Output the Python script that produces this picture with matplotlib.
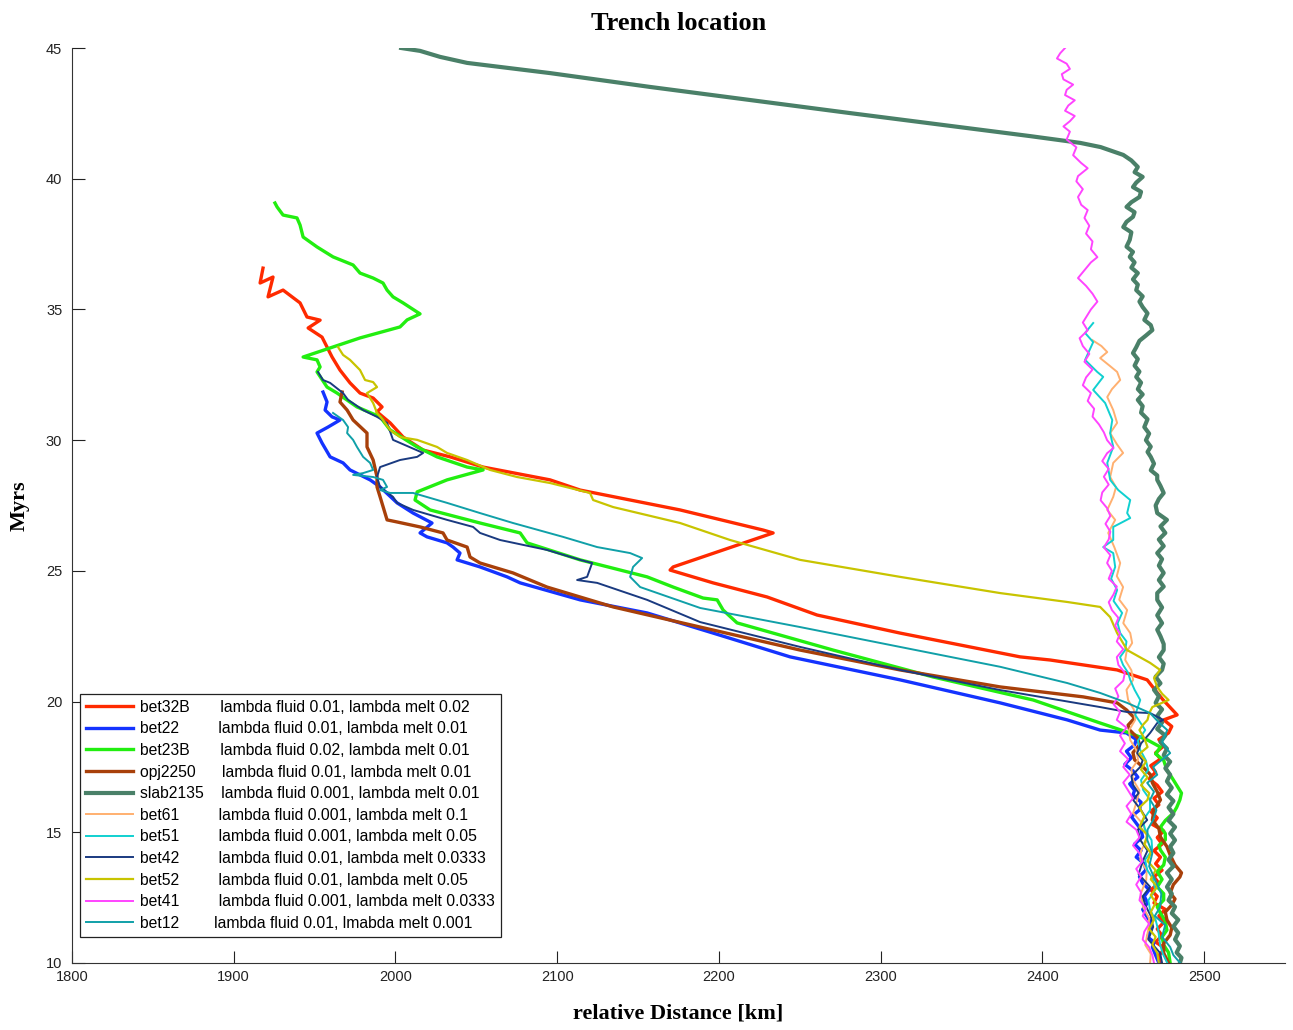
import matplotlib
matplotlib.use("Agg")
import matplotlib.pyplot as plt

# ---- data: trench position (km) vs time (Myrs) ----
bet32B_t = [36.58, 36.01, 36.24, 35.48, 35.74, 35.25, 34.71, 34.59, 34.29, 33.94, 33.56, 33.18,
            32.68, 32.19, 31.80, 31.61, 31.27, 31.08, 30.66, 30.12, 29.62, 29.36, 28.97, 28.48,
            28.09, 27.33, 26.56, 26.45, 25.15, 25.03, 24.54, 24.00, 23.31, 22.62, 21.71, 21.59,
            21.21, 20.83, 20.44, 20.06, 19.49, 19.30, 19.05, 18.80, 18.55, 18.30, 18.04, 17.80,
            17.55, 17.30, 17.05, 16.80, 16.55, 16.30, 16.05, 15.80, 15.55, 15.30, 15.05, 14.80,
            14.55, 14.30, 14.05, 13.80, 13.55, 13.30, 13.05, 12.80, 12.55, 12.30, 12.05, 11.80,
            11.55, 11.30, 11.05, 10.80, 10.55, 10.30, 10.00]
bet32B_km = [1918.1, 1916.3, 1924.3, 1921.2, 1930.5, 1941.0, 1945.3, 1953.4, 1946.0, 1954.6, 1957.7,
             1960.8, 1965.7, 1971.9, 1978.1, 1986.2, 1991.7, 1988.6, 1996.7, 2004.7, 2017.1, 2033.8,
             2054.2, 2095.6, 2114.2, 2176.0, 2227.4, 2233.5, 2171.7, 2169.8, 2196.4, 2229.8, 2260.7,
             2312.0, 2386.2, 2404.8, 2446.2, 2464.8, 2469.7, 2474.7, 2483.3, 2475, 2480, 2478, 2472,
             2475, 2470, 2473, 2467, 2470, 2466, 2471, 2474, 2469, 2472, 2467, 2471, 2468, 2475, 2471,
             2474, 2469, 2473, 2470, 2474, 2469, 2472, 2467, 2471, 2469, 2476, 2472, 2475, 2471, 2474,
             2470, 2476, 2472, 2473]

bet22_t = [31.84, 31.46, 31.15, 30.89, 30.77, 30.50, 30.27, 29.89, 29.36, 29.13, 28.86, 28.48, 28.21,
           27.60, 27.21, 26.83, 26.45, 26.30, 26.07, 25.91, 25.68, 25.42, 25.15, 24.77, 24.54, 23.89,
           23.39, 22.62, 21.71, 20.83, 19.95, 19.30, 18.91, 18.80, 18.55, 18.34, 18.10, 17.85, 17.60,
           17.35, 17.11, 16.85, 16.60, 16.43, 16.15, 15.85, 15.60, 15.35, 15.10, 14.82, 14.55, 14.30,
           14.05, 13.80, 13.56, 13.30, 13.06, 12.80, 12.55, 12.30, 12.05, 11.84, 11.55, 11.26, 11.00,
           10.80, 10.61, 10.30, 10.00]
bet22_km = [1955.2, 1957.7, 1956.5, 1960.8, 1965.7, 1958.3, 1951.5, 1954.6, 1959.6, 1967.6, 1971.9,
            1984.3, 1990.5, 2001.0, 2010.9, 2022.6, 2015.2, 2019.5, 2031.9, 2035.6, 2039.9, 2038.1,
            2052.3, 2069.0, 2077.1, 2114.2, 2155.6, 2196.4, 2244.0, 2312.0, 2373.9, 2415.3, 2435.7,
            2452, 2458, 2457, 2452, 2455, 2451, 2456, 2459, 2454, 2457, 2456, 2461, 2460, 2455, 2458,
            2461, 2462, 2457, 2461, 2458, 2463, 2464, 2460, 2462, 2466, 2463, 2465, 2462, 2464, 2467,
            2467, 2465, 2469, 2468, 2470, 2472]

bet23B_t = [39.07, 38.92, 38.61, 38.50, 38.23, 37.77, 37.39, 37.01, 36.70, 36.39, 36.20, 36.01, 35.74,
            35.48, 35.25, 34.90, 34.83, 34.60, 34.33, 33.91, 33.18, 33.07, 32.80, 32.61, 32.03, 31.80,
            31.27, 30.89, 30.39, 29.74, 29.36, 28.97, 28.86, 28.48, 28.02, 27.71, 27.33, 26.83, 26.45,
            26.07, 25.42, 24.77, 24.38, 23.96, 23.89, 23.50, 23.01, 21.97, 20.94, 20.06, 19.18, 18.80,
            18.53, 18.26, 18.00, 17.75, 17.38, 17.10, 16.80, 16.50, 16.24, 15.95, 15.74, 15.45, 15.20,
            14.95, 14.71, 14.50, 14.32, 14.05, 13.75, 13.50, 13.20, 12.91, 12.65, 12.41, 12.15, 11.91,
            11.60, 11.26, 11.00, 10.69, 10.40, 10.00]
bet23B_km = [1925.5, 1926.8, 1930.5, 1939.1, 1941.0, 1942.9, 1951.5, 1961.4, 1973.8, 1978.1, 1986.2,
             1992.3, 1994.8, 1998.5, 2004.7, 2013.4, 2015.2, 2007.2, 2002.8, 1978.1, 1942.9, 1951.5,
             1953.4, 1951.5, 1957.7, 1963.9, 1976.2, 1990.5, 1996.7, 2013.4, 2025.7, 2044.3, 2054.2,
             2031.9, 2013.4, 2012.1, 2021.4, 2052.3, 2077.1, 2081.4, 2114.2, 2155.6, 2171.7, 2190.2,
             2198.9, 2202.6, 2211.2, 2270.6, 2332.5, 2394.3, 2435.7, 2454, 2465, 2473, 2470, 2475,
             2477, 2480, 2483, 2486, 2485, 2483, 2481, 2476, 2473, 2476, 2476, 2472, 2473, 2476, 2475,
             2471, 2474, 2471, 2475, 2475, 2471, 2473, 2476, 2477, 2474, 2475, 2478, 2479]

opj2250_t = [31.84, 31.46, 31.15, 30.77, 30.27, 29.74, 29.24, 28.59, 28.21, 27.83, 26.95, 26.87, 26.68,
             26.45, 26.18, 25.91, 25.53, 25.30, 24.92, 24.38, 23.62, 22.85, 21.97, 21.21, 20.56, 20.18,
             19.95, 19.68, 19.37, 19.10, 18.91, 18.60, 18.34, 18.05, 17.77, 17.45, 17.19, 16.89, 16.55,
             16.24, 15.85, 15.47, 15.15, 14.82, 14.45, 14.13, 13.75, 13.45, 13.29, 13.00, 12.68, 12.45,
             12.22, 11.95, 11.65, 11.35, 11.07, 10.75, 10.38, 10.00]
opj2250_km = [1967.0, 1965.7, 1970.1, 1973.8, 1982.4, 1982.4, 1986.2, 1988.6, 1988.6, 1990.5, 1994.8,
              2001.0, 2015.2, 2029.4, 2031.9, 2044.3, 2046.1, 2052.3, 2072.7, 2093.7, 2134.6, 2188.4,
              2250.2, 2312.0, 2373.9, 2425.2, 2446.2, 2452, 2457, 2453, 2454, 2459, 2460, 2456, 2457,
              2463, 2467, 2468, 2471, 2473, 2469, 2468, 2472, 2473, 2477, 2479, 2482, 2486, 2485, 2481,
              2479, 2482, 2480, 2476, 2477, 2480, 2479, 2475, 2475, 2478]

slab2135_t = [45.00, 44.89, 44.66, 44.43, 44.04, 43.51, 43.01, 42.51, 42.02, 41.63, 41.37, 41.21, 40.91,
              40.70, 40.45, 40.25, 40.07, 39.85, 39.68, 39.50, 39.30, 39.10, 38.92, 38.72, 38.54, 38.35,
              38.15, 37.95, 37.66, 37.40, 37.20, 37.01, 36.80, 36.60, 36.39, 36.15, 35.95, 35.74, 35.50,
              35.30, 35.09, 34.85, 34.60, 34.40, 34.21, 34.00, 33.80, 33.55, 33.33, 33.10, 32.85, 32.62,
              32.42, 32.20, 31.95, 31.75, 31.54, 31.30, 31.05, 30.80, 30.50, 30.25, 30.00, 29.75, 29.55,
              29.36, 29.10, 28.85, 28.65, 28.48, 28.25, 27.98, 27.75, 27.50, 27.21, 26.95, 26.70, 26.45,
              26.20, 25.95, 25.68, 25.45, 25.20, 24.92, 24.65, 24.40, 24.15, 23.89, 23.60, 23.30, 23.00,
              22.75, 22.50, 22.20, 21.97, 21.70, 21.45, 21.21, 20.95, 20.70, 20.45, 20.20, 19.95, 19.70,
              19.45, 19.20, 18.95, 18.70, 18.45, 18.20, 17.95, 17.70, 17.45, 17.20, 16.95, 16.70, 16.45,
              16.20, 15.95, 15.70, 15.45, 15.20, 14.95, 14.70, 14.45, 14.21, 13.95, 13.70, 13.45, 13.20,
              12.91, 12.65, 12.40, 12.15, 11.90, 11.65, 11.40, 11.15, 10.90, 10.65, 10.40, 10.20, 10.00]
slab2135_km = [2003.5, 2015.2, 2027.6, 2044.3, 2095.6, 2157.5, 2219.3, 2281.1, 2343.0, 2392.4, 2423.4,
               2436, 2450, 2455, 2459, 2457, 2462, 2458, 2456, 2461, 2460, 2455, 2452, 2457, 2456, 2452,
               2450, 2455, 2454, 2452, 2456, 2454, 2457, 2455, 2459, 2456, 2459, 2458, 2462, 2460, 2462,
               2465, 2463, 2467, 2468, 2464, 2460, 2458, 2456, 2459, 2457, 2460, 2458, 2461, 2459, 2462,
               2459, 2462, 2461, 2465, 2463, 2466, 2464, 2467, 2465, 2467, 2469, 2467, 2471, 2471, 2473,
               2475, 2472, 2470, 2471, 2477, 2473, 2476, 2472, 2475, 2471, 2474, 2472, 2475, 2472, 2475,
               2471, 2471, 2474, 2471, 2474, 2471, 2473, 2475, 2475, 2472, 2475, 2474, 2470, 2473, 2469,
               2472, 2470, 2474, 2471, 2474, 2471, 2476, 2473, 2477, 2475, 2479, 2476, 2479, 2477, 2480,
               2477, 2481, 2478, 2481, 2478, 2482, 2479, 2482, 2479, 2481, 2478, 2481, 2477, 2480, 2477,
               2480, 2478, 2482, 2480, 2484, 2481, 2484, 2482, 2485, 2483, 2486, 2485]

bet61_t = [33.83, 33.60, 33.37, 33.14, 32.85, 32.61, 32.30, 31.95, 31.65, 31.15, 30.66, 30.27, 29.85,
           29.51, 29.13, 28.59, 28.20, 27.83, 27.33, 26.95, 26.45, 25.90, 25.30, 24.80, 24.38, 23.90,
           23.50, 23.00, 22.62, 22.24, 21.90, 21.59, 21.20, 20.83, 20.45, 20.06, 19.70, 19.30, 18.90,
           18.53, 18.15, 17.77, 17.40, 17.00, 16.60, 16.24, 15.74, 15.40, 15.09, 14.71, 14.30, 13.94,
           13.55, 13.18, 12.65, 12.14, 11.70, 11.26, 10.69, 10.35, 10.00]
bet61_km = [2430.8, 2436.5, 2440.1, 2435.7, 2441.5, 2446.2, 2448.1, 2443.0, 2440.1, 2443.8, 2446.2,
            2441.9, 2446.0, 2449.9, 2443.8, 2441.9, 2445.5, 2443.8, 2440.1, 2445.0, 2440.7, 2444.5,
            2448.1, 2446.0, 2449.9, 2447.5, 2452.4, 2450.0, 2454.3, 2455.5, 2452.0, 2451.2, 2455.0,
            2456.1, 2452.0, 2453.0, 2456.5, 2457.4, 2453.5, 2454.3, 2458.0, 2459.2, 2455.0, 2456.1,
            2460.0, 2458.6, 2456.1, 2461.0, 2463.6, 2464.8, 2461.0, 2460.5, 2464.5, 2464.2, 2460.8,
            2462.3, 2466.0, 2465.4, 2463.6, 2467.0, 2466.6]

bet51_t = [34.48, 34.10, 33.75, 33.07, 32.61, 32.42, 31.92, 31.42, 30.77, 30.27, 29.74, 29.13, 28.48,
           28.09, 27.71, 27.21, 27.02, 26.68, 26.18, 25.91, 25.68, 25.15, 24.70, 24.27, 23.85, 23.39,
           23.00, 22.62, 22.30, 21.97, 21.70, 21.40, 21.10, 20.83, 20.45, 20.06, 19.49, 18.91, 18.50,
           18.15, 17.75, 17.38, 17.00, 16.62, 16.25, 15.85, 15.45, 15.09, 14.70, 14.32, 13.95, 13.56,
           13.20, 12.79, 12.40, 12.03, 11.65, 11.26, 10.69, 10.35, 10.00]
bet51_km = [2431.4, 2426.4, 2431.4, 2426.4, 2433.9, 2437.6, 2431.4, 2438.8, 2443.2, 2441.9, 2443.8,
            2440.1, 2441.9, 2446.9, 2454.3, 2452.4, 2454.3, 2443.8, 2443.8, 2437.6, 2443.8, 2445.0,
            2442.5, 2446.2, 2444.0, 2449.3, 2446.5, 2448.1, 2452.0, 2451.2, 2448.0, 2449.9, 2453.0,
            2454.3, 2457.0, 2460.5, 2457.4, 2463.6, 2459.0, 2460.5, 2464.0, 2465.4, 2461.0, 2462.3,
            2466.5, 2466.6, 2462.0, 2463.6, 2467.5, 2467.9, 2463.5, 2464.8, 2468.5, 2469.7, 2465.5,
            2466.6, 2470.0, 2471.6, 2472.8, 2474.5, 2477.2]

bet42_t = [32.61, 32.30, 32.19, 31.80, 31.54, 31.15, 30.89, 30.66, 30.01, 29.51, 29.36, 29.24, 28.97,
           28.59, 28.21, 27.83, 27.60, 27.33, 26.95, 26.68, 26.45, 26.18, 25.80, 25.42, 25.30, 24.77,
           24.65, 24.54, 23.89, 23.04, 22.09, 21.21, 20.44, 19.79, 19.60, 19.56, 19.30, 19.18, 18.80,
           18.40, 18.03, 17.75, 17.50, 17.15, 16.81, 16.50, 16.24, 15.85, 15.47, 15.10, 14.71, 14.30,
           13.94, 13.40, 12.91, 12.55, 12.22, 11.80, 11.38, 10.90, 10.38, 10.00]
bet42_km = [1952.1, 1955.2, 1959.6, 1967.6, 1970.7, 1980.0, 1988.6, 1994.8, 1998.5, 2017.1, 2013.4,
            2002.8, 1990.5, 1988.6, 1990.5, 1998.5, 2001.0, 2010.9, 2031.9, 2048.0, 2052.3, 2064.7,
            2093.7, 2114.2, 2121.6, 2118.5, 2112.3, 2124.7, 2155.6, 2188.4, 2250.2, 2312.0, 2373.9,
            2435.7, 2452.4, 2466.6, 2474.7, 2471.0, 2466.6, 2461.0, 2458.6, 2462.0, 2460.5, 2455.0,
            2456.1, 2459.5, 2456.1, 2461.0, 2464.8, 2459.0, 2460.5, 2465.0, 2462.3, 2459.5, 2466.6,
            2462.0, 2463.6, 2467.0, 2468.5, 2465.5, 2472.8, 2474.0]

bet52_t = [33.56, 33.26, 33.07, 32.68, 32.30, 32.22, 32.03, 31.80, 31.42, 31.04, 30.77, 30.39, 30.12,
           30.01, 29.74, 29.51, 29.24, 28.86, 28.59, 28.36, 27.98, 27.71, 27.44, 26.83, 26.18, 25.42,
           24.77, 24.15, 23.81, 23.62, 23.23, 22.62, 21.97, 21.48, 21.21, 20.90, 20.56, 20.30, 20.06,
           19.79, 19.55, 19.30, 19.10, 18.91, 18.60, 18.26, 18.00, 17.70, 17.40, 17.10, 16.80, 16.50,
           16.24, 15.95, 15.60, 15.20, 14.90, 14.55, 14.21, 13.90, 13.55, 13.20, 12.91, 12.60, 12.30,
           11.95, 11.65, 11.30, 11.00, 10.70, 10.38, 10.00]
bet52_km = [1964.5, 1967.6, 1971.9, 1978.1, 1981.2, 1986.2, 1988.6, 1982.4, 1986.2, 1988.6, 1992.3,
            1996.7, 2002.8, 2013.4, 2025.7, 2031.9, 2044.3, 2058.5, 2075.2, 2095.6, 2120.3, 2122.2,
            2134.6, 2176.0, 2206.9, 2250.2, 2312.0, 2373.9, 2415.3, 2435.7, 2441.9, 2446.2, 2452.4,
            2466.6, 2472.8, 2469, 2471, 2474, 2478, 2468, 2466, 2465, 2462, 2460, 2463, 2465, 2460,
            2464, 2461, 2465, 2461, 2466, 2465, 2460, 2463, 2460, 2465, 2463, 2467, 2465, 2470, 2467,
            2471, 2467, 2470, 2467, 2469, 2466, 2470, 2468, 2471, 2472]

bet41_t = [45.0, 44.8, 44.6, 44.4, 44.2, 44.0, 43.8, 43.6, 43.4, 43.2, 43.0, 42.8, 42.6, 42.4, 42.2,
           42.0, 41.8, 41.5, 41.2, 40.9, 40.6, 40.4, 40.1, 39.9, 39.6, 39.3, 39.0, 38.8, 38.5, 38.2,
           37.9, 37.6, 37.3, 37.0, 36.8, 36.5, 36.2, 35.9, 35.6, 35.3, 35.0, 34.8, 34.5, 34.2, 33.9,
           33.6, 33.3, 33.0, 32.7, 32.4, 32.1, 31.8, 31.5, 31.2, 30.9, 30.6, 30.3, 30.0, 29.7, 29.5,
           29.2, 28.9, 28.6, 28.3, 28.0, 27.7, 27.4, 27.1, 26.8, 26.5, 26.2, 25.9, 25.6, 25.3, 25.0,
           24.7, 24.4, 24.1, 23.8, 23.5, 23.2, 22.9, 22.6, 22.3, 22.0, 21.7, 21.4, 21.1, 20.8, 20.5,
           20.2, 19.9, 19.6, 19.3, 19.0, 18.7, 18.4, 18.1, 17.8, 17.5, 17.2, 16.9, 16.6, 16.3, 16.0,
           15.7, 15.4, 15.1, 14.8, 14.5, 14.2, 13.9, 13.6, 13.3, 13.0, 12.7, 12.4, 12.1, 11.8, 11.5,
           11.2, 10.9, 10.6, 10.3, 10.0]
bet41_km = [2414, 2411, 2409, 2415, 2417, 2412, 2413, 2419, 2415, 2414, 2420, 2416, 2414, 2420, 2417,
            2413, 2417, 2415, 2421, 2419, 2424, 2428, 2422, 2421, 2425, 2422, 2424, 2428, 2426, 2429,
            2427, 2431, 2430, 2434, 2430, 2426, 2422, 2427, 2431, 2434, 2430, 2428, 2425, 2428, 2423,
            2425, 2429, 2426, 2431, 2427, 2425, 2430, 2428, 2432, 2431, 2435, 2438, 2440, 2444, 2440,
            2437, 2441, 2438, 2441, 2437, 2436, 2440, 2442, 2439, 2442, 2441, 2438, 2442, 2440, 2443,
            2441, 2446, 2444, 2441, 2443, 2447, 2445, 2448, 2446, 2450, 2446, 2447, 2451, 2450, 2445,
            2447, 2444, 2448, 2446, 2452, 2448, 2451, 2448, 2453, 2450, 2454, 2450, 2453, 2456, 2452,
            2455, 2452, 2458, 2460, 2456, 2460, 2462, 2458, 2461, 2458, 2461, 2460, 2464, 2462, 2466,
            2463, 2462, 2466, 2468, 2469]

bet12_t = [31.04, 30.77, 30.50, 30.27, 30.01, 29.74, 29.36, 29.13, 28.86, 28.74, 28.67, 28.59, 28.48,
           28.21, 28.09, 27.98, 27.98, 27.60, 27.21, 26.83, 26.30, 25.91, 25.68, 25.49, 25.15, 24.77,
           24.38, 23.58, 22.85, 22.09, 21.33, 20.71, 20.33, 19.95, 19.56, 19.20, 18.91, 18.45, 18.03,
           17.50, 17.20, 16.89, 16.55, 16.24, 15.85, 15.47, 15.10, 14.71, 14.21, 13.70, 13.18, 12.65,
           12.14, 11.80, 11.45, 11.00, 10.61, 10.30, 10.00]
bet12_km = [1961.4, 1967.6, 1970.7, 1970.1, 1973.8, 1976.2, 1980.0, 1984.3, 1986.2, 1980.0, 1973.8,
            1986.2, 1992.3, 1994.8, 1990.5, 1996.7, 2010.9, 2031.9, 2052.3, 2072.7, 2103.6, 2124.7,
            2145.1, 2152.5, 2146.9, 2145.1, 2151.3, 2188.4, 2250.2, 2312.0, 2373.9, 2415.3, 2435.7,
            2452.4, 2466.6, 2472.0, 2477.2, 2474.0, 2479.0, 2468.5, 2471.0, 2464.8, 2469.0, 2466.6,
            2470.5, 2468.5, 2465.0, 2464.8, 2468.0, 2466.0, 2469.7, 2473.5, 2472.8, 2469.5, 2475.9,
            2474.0, 2479.0, 2481.0, 2485.2]

names = ["bet32B", "bet22", "bet23B", "opj2250", "slab2135", "bet61", "bet51", "bet42",
         "bet52", "bet41", "bet12"]
descriptions = ["lambda fluid 0.01, lambda melt 0.02", "lambda fluid 0.01, lambda melt 0.01",
                "lambda fluid 0.02, lambda melt 0.01", "lambda fluid 0.01, lambda melt 0.01",
                "lambda fluid 0.001, lambda melt 0.01", "lambda fluid 0.001, lambda melt 0.1",
                "lambda fluid 0.001, lambda melt 0.05", "lambda fluid 0.01, lambda melt 0.0333",
                "lambda fluid 0.01, lambda melt 0.05", "lambda fluid 0.001, lambda melt 0.0333",
                "lambda fluid 0.01, lmabda melt 0.001"]
gaps = [7, 9, 7, 6, 4, 9, 9, 9, 9, 9, 8]
colors = ["#ff2a00", "#1433ff", "#22ee10", "#a8400a", "#4a8068", "#ffb070", "#10d0d0",
          "#1a3a80", "#c8c400", "#ff44ff", "#10a0a8"]
widths = [2.4, 2.4, 2.4, 2.4, 3.0, 1.4, 1.4, 1.4, 1.6, 1.4, 1.4]

series_t = [bet32B_t, bet22_t, bet23B_t, opj2250_t, slab2135_t, bet61_t, bet51_t, bet42_t,
            bet52_t, bet41_t, bet12_t]
series_km = [bet32B_km, bet22_km, bet23B_km, opj2250_km, slab2135_km, bet61_km, bet51_km,
             bet42_km, bet52_km, bet41_km, bet12_km]

fig = plt.figure(figsize=(12.93, 10.30), dpi=100)
ax = fig.add_axes([72 / 1293, 1 - 963 / 1030, 1213 / 1293, 915 / 1030])

for name, desc, gap, c, lw, t, km in zip(names, descriptions, gaps, colors, widths,
                                         series_t, series_km):
    ax.plot(km, t, color=c, linewidth=lw, label=name + " " * gap + desc)

ax.set_xlim(1800, 2550)
ax.set_ylim(10, 45)
ax.set_xticks(range(1800, 2501, 100))
ax.set_yticks(range(10, 46, 5))
ax.tick_params(direction="in", length=9, width=0.8, labelsize=10.5, colors="#222222",
               labelfontfamily="Liberation Sans")
ax.tick_params(axis="x", pad=5)
ax.tick_params(axis="y", pad=7)
for s in ["top", "right"]:
    ax.spines[s].set_visible(False)
for s in ["left", "bottom"]:
    ax.spines[s].set_color("#333333")

ax.set_title("Trench location", fontsize=19, fontweight="bold", family="Liberation Serif", pad=13)
ax.set_xlabel("relative Distance [km]", fontsize=16, fontweight="bold", family="Liberation Serif",
              labelpad=14)
ax.set_ylabel("Myrs", fontsize=16, fontweight="bold", family="Liberation Serif", labelpad=12)

leg = ax.legend(loc="lower left", bbox_to_anchor=(8 / 1213, 26 / 915), borderaxespad=0,
                prop={"family": "Liberation Sans", "size": 11.3}, handlelength=3.0,
                handletextpad=0.4, labelspacing=0.42, borderpad=0.4, fancybox=False,
                framealpha=1, edgecolor="#222222")
leg.get_frame().set_linewidth(0.9)

fig.savefig("out.png", dpi=100)
